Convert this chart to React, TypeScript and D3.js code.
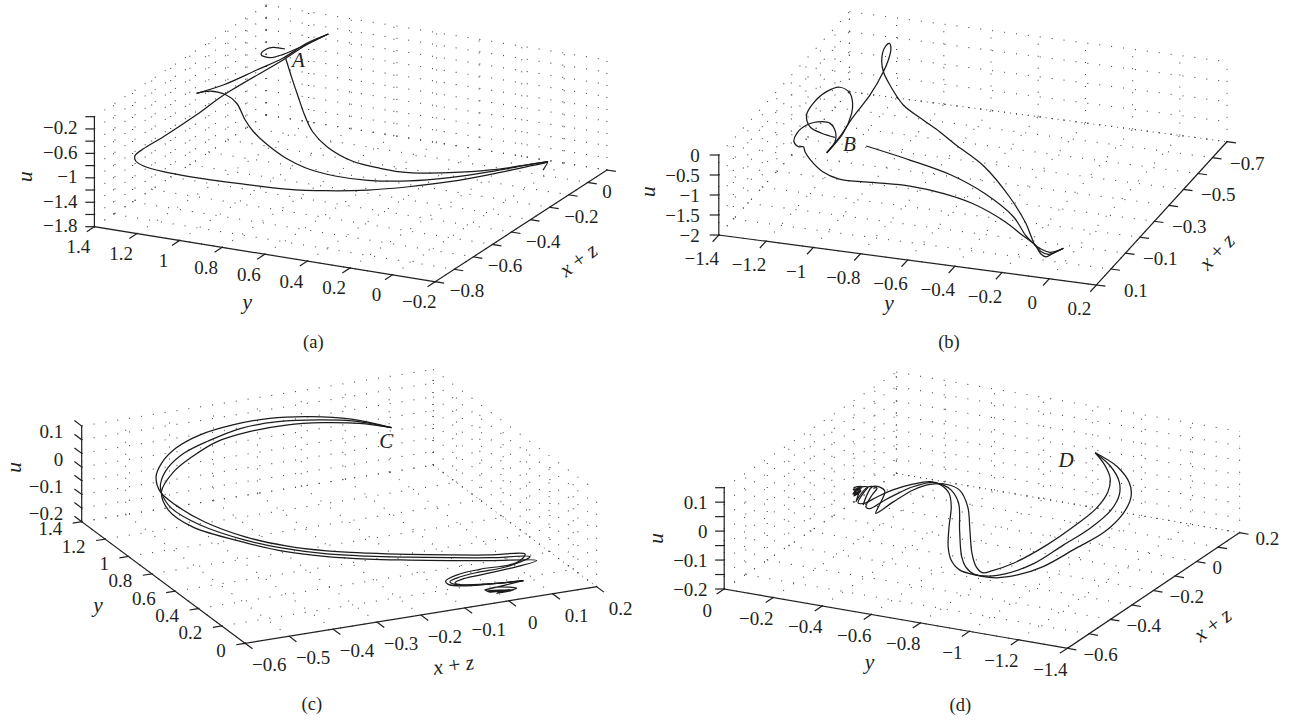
import React from "react";
import * as d3 from "d3";

type Row = [number, number, number]; // y, x + z, u
type Pt = [number, number];

const width = 1289;
const height = 720;
const ink = "#231f20";
const serif = "'Liberation Serif', serif";

// panel (a)
const aYTicks = [1.4, 1.2, 1, 0.8, 0.6, 0.4, 0.2, 0, -0.2];
const aXzTicks = [-0.8, -0.7, -0.6, -0.5, -0.4, -0.3, -0.2, -0.1, 0, 0.1];
const aXzLabels = [-0.8, -0.6, -0.4, -0.2, 0];
const aUTicks = [-1.8, -1.6, -1.4, -1.2, -1, -0.8, -0.6, -0.4, -0.2, 0];
const aULabels = [-1.8, -1.4, -1, -0.6, -0.2];
const aLoop: Row[] = [[1.222,0,-.417],[1.277,0,-.42],[1.308,0,-.465],[1.334,0,-.57],[1.292,0,-.599],[1.23,0,-.508],[1.128,0,-.299],[1.018,0,-.057]];
const aUpper: Row[] = [[1.018,0,-.057],[1.12,0,-.266],[1.23,0,-.569],[1.086,-.3,-.075],[1.243,-.3,-.408],[1.368,-.3,-.615]];
const aDescent: Row[] = [[1.368,-.3,-.615],[1.305,-.3,-.542],[1.235,-.3,-.556],[1.18,-.3,-.672],[1.14,-.3,-.923],[1.101,-.3,-1.093],[1.044,-.3,-1.251],[.948,-.3,-1.442],[.852,-.3,-1.551],[.718,-.3,-1.602],[.564,-.3,-1.586],[.372,-.3,-1.489],[.181,-.3,-1.328],[.078,-.2,-1.375],[-.094,-.2,-1.168],[-.191,-.2,-1.06]];
const aReturn: Row[] = [[-.191,-.2,-1.06],[.078,-.2,-1.347],[.181,-.3,-1.246],[.372,-.3,-1.354],[.507,-.3,-1.357],[.641,-.3,-1.309],[.756,-.3,-1.144],[.823,-.3,-.937],[.861,-.3,-.685],[.891,-.3,-.402],[1.189,0,-.878],[1.219,0,-.563]];
const aLong: Row[] = [[1.018,0,-.057],[1.128,0,-.31],[1.231,0,-.602],[1.235,-.3,-.556],[1.37,-.3,-.971],[1.076,-.8,-.145],[1.172,-.8,-.401],[1.21,-.8,-.536],[1.206,-.8,-.616],[1.172,-.8,-.674],[1.076,-.8,-.718],[.884,-.8,-.729],[.692,-.8,-.708],[.5,-.8,-.677],[.308,-.8,-.597],[.116,-.8,-.478],[-.076,-.8,-.316],[.27,-.2,-1.647],[.078,-.2,-1.418],[-.094,-.2,-1.196],[-.181,-.2,-1.082],[-.191,-.2,-1.06],[-.169,-.2,-1.209]];

// panel (b)
const bYTicks = [-1.4, -1.2, -1, -0.8, -0.6, -0.4, -0.2, 0, 0.2];
const bXzTicks = [0.1, 0, -0.1, -0.2, -0.3, -0.4, -0.5, -0.6, -0.7, -0.8];
const bXzLabels = [0.1, -0.1, -0.3, -0.5, -0.7];
const bUTicks = [-2, -1.5, -1, -0.5, 0];
const bStart: Row[] = [[-.96,-.2,-.626],[-.775,-.2,-.832],[-.6,-.2,-1.07],[-.459,-.2,-1.417],[-.336,-.2,-1.906],[-.098,.1,-1.008],[-.06,.1,-1.203],[-.035,.1,-1.346],[-.004,.1,-1.392],[.06,.1,-1.192]];
const bReturn: Row[] = [[.06,.1,-1.192],[.003,.1,-1.336],[-.035,.1,-1.283],[-.06,.1,-1.203],[-.077,.1,-.992],[-.099,.1,-.691],[-.353,-.2,-1.42],[-.459,-.2,-.752],[-.582,-.2,-.293],[-.832,-.5,-1.369],[-.903,-.5,-1.124],[-.987,-.5,-.815],[-1.044,-.5,-.359],[-1.256,-.8,-1.388],[-1.263,-.8,-1.101],[-1.252,-.8,-.8],[-1.231,-.8,-.658],[-1.224,-.8,-.777],[-1.235,-.8,-1.079],[-1.256,-.8,-1.388],[-1.128,-.5,-.675],[-1.199,-.5,-1.273],[-1.256,-.5,-1.817],[-1.127,-.2,-.924]];
const bBigLoop: Row[] = [[-1.127,-.2,-.924],[-1.242,-.5,-1.721],[-1.206,-.5,-1.194],[-1.202,-.5,-.94],[-1.213,-.5,-.699],[-1.256,-.5,-.582],[-1.312,-.5,-.736],[-1.369,-.5,-1.071],[-1.397,-.5,-1.385],[-1.383,-.5,-1.667],[-1.333,-.5,-1.793],[-1.277,-.5,-1.849]];
const bSmallLoop: Row[] = [[-1.127,-.2,-.924],[-1.092,-.2,-.622],[-1.09,-.2,-.378],[-1.113,-.2,-.179],[-1.148,-.2,-.166],[-1.212,-.2,-.298],[-1.254,-.2,-.539],[-1.266,-.2,-.758],[-1.247,-.2,-.868],[-1.226,-.2,-.852],[-1.219,-.2,-.971],[-1.198,-.2,-1.145],[-1.144,-.2,-1.413],[-1.074,-.2,-1.541],[-.933,-.2,-1.513],[-.775,-.2,-1.482],[-.635,-.2,-1.555],[-.327,.1,-.369],[-.187,.1,-.72],[-.115,.1,-.996],[-.06,.1,-1.203],[-.035,.1,-1.408],[-.014,.1,-1.462],[.012,.1,-1.372],[.06,.1,-1.192]];

// panel (c)
const cYTicks = [1.4, 1.2, 1, 0.8, 0.6, 0.4, 0.2, 0];
const cXzTicks = [-0.6, -0.5, -0.4, -0.3, -0.2, -0.1, 0, 0.1, 0.2];
const cUTicks = [-0.2, -0.15, -0.1, -0.05, 0, 0.05, 0.1, 0.15];
const cULabels = [-0.2, -0.1, 0, 0.1];
const cOuter: Row[] = [[1.38,.1,-.031],[1.348,0,.036],[1.321,-.1,.08],[1.295,-.2,.108],[1.234,-.3,.129],[1.138,-.4,.149],[1.348,-.4,.033],[1.093,-.5,.085],[1.139,-.5,.022],[1.104,-.5,-.022],[.971,-.5,-.029],[.726,-.5,-.012],[.376,-.5,.044],[.026,-.5,.122],[.429,-.3,-.076],[.079,-.3,.027],[.481,-.1,-.157],[.132,-.1,-.048],[.157,0,-.082],[.236,.1,-.13],[.308,.1,-.184],[.247,0,-.163],[.07,-.1,-.102],[.164,-.1,-.154],[.142,-.1,-.159],[.059,-.08,-.143],[.104,0,-.169],[.063,.05,-.159]];
const cMiddle: Row[] = [[1.38,.1,-.031],[1.317,0,.039],[1.251,-.1,.09],[1.224,-.2,.118],[1.164,-.3,.139],[1.068,-.4,.149],[1.278,-.4,.037],[1.04,-.5,.084],[1.1,-.5,.01],[1.093,-.5,-.023],[1.006,-.5,-.052],[.761,-.5,-.035],[.376,-.5,.032],[.026,-.5,.112],[.429,-.3,-.087],[.079,-.3,.016],[.481,-.1,-.167],[.132,-.1,-.058],[.157,0,-.092],[.194,.1,-.126],[.018,0,-.081],[.275,0,-.184],[.07,-.1,-.113],[.128,-.1,-.145],[.085,-.1,-.141],[.031,-.08,-.131],[.104,0,-.169],[.063,.05,-.159]];
const cInner: Row[] = [[1.38,.1,-.031],[1.278,0,.043],[1.217,-.1,.091],[1.154,-.2,.128],[1.093,-.3,.149],[1.373,-.3,.023],[1.207,-.4,.047],[.988,-.5,.088],[1.093,-.5,-.019],[1.034,-.5,-.067],[.831,-.5,-.063],[.376,-.5,.023],[.026,-.5,.101],[.429,-.3,-.097],[.079,-.3,.005],[.481,-.1,-.178],[.132,-.1,-.069],[.157,0,-.103],[.137,.1,-.122],[.065,.02,-.107],[.247,0,-.184],[.027,-.1,-.104],[.085,-.1,-.135],[.027,-.1,-.124],[.003,-.08,-.121],[.104,0,-.169],[.063,.05,-.159]];
const cSettle: Row[] = [[.063,.05,-.159],[.015,-.05,-.152],[.104,0,-.183],[.045,.03,-.176],[.075,0,-.19],[.001,-.05,-.151],[.074,.03,-.192],[.028,-.02,-.176],[.103,.03,-.199],[.086,-.02,-.19],[.015,-.05,-.152]];

// panel (d)
const dYTicks = [0, -0.2, -0.4, -0.6, -0.8, -1, -1.2, -1.4];
const dXzTicks = [-0.6, -0.5, -0.4, -0.3, -0.2, -0.1, 0, 0.1, 0.2];
const dXzLabels = [-0.6, -0.4, -0.2, 0, 0.2];
const dUTicks = [-0.2, -0.15, -0.1, -0.05, 0, 0.05, 0.1, 0.15];
const dULabels = [-0.2, -0.1, 0, 0.1];
const dLeft: Row[] = [[-.811,.2,-.01],[-.901,.2,-.045],[-.951,.2,-.095],[-.957,.2,-.141],[-1.101,0,-.077],[-1.025,0,-.152],[-1.083,-.2,-.101],[-1.123,-.4,-.059],[-1.021,-.4,-.102],[-.936,-.4,-.124],[-.852,-.4,-.127],[-.784,-.4,-.119],[-.75,-.4,-.09],[-.738,-.4,-.046],[-.566,-.2,-.102],[-.575,-.2,-.031],[-.566,-.2,.014],[-.532,-.2,.038],[-.49,-.2,.043],[-.414,-.2,.022],[-.337,-.2,-.008],[-.272,-.2,-.042],[-.223,-.2,-.07],[-.195,-.2,-.074],[-.219,-.2,-.033],[-.235,-.2,-.013],[-.195,-.2,-.022],[-.174,-.2,-.046]];
const dMiddle: Row[] = [[-.811,.2,-.01],[-.875,.2,-.049],[-.909,.2,-.096],[-.909,.2,-.142],[-1.051,0,-.073],[-.966,0,-.148],[-1.032,-.2,-.097],[-1.089,-.4,-.052],[-.97,-.4,-.106],[-.911,-.4,-.122],[-.843,-.4,-.125],[-.809,-.4,-.104],[-.793,-.4,-.072],[-.609,-.2,-.107],[-.605,-.2,-.015],[-.575,-.2,.026],[-.541,-.2,.039],[-.498,-.2,.042],[-.419,-.2,.015],[-.345,-.2,-.024],[-.298,-.2,-.052],[-.244,-.2,-.086],[-.227,-.2,-.083],[-.252,-.2,-.038],[-.272,-.2,-.011],[-.235,-.2,-.013],[-.195,-.2,-.057],[-.186,-.2,-.071],[-.203,-.2,-.028]];
const dRight: Row[] = [[-.811,.2,-.01],[-.85,.2,-.047],[-.872,.2,-.089],[-.863,.2,-.137],[-.991,0,-.076],[-.907,0,-.146],[-.964,-.2,-.107],[-1.004,-.4,-.064],[-.919,-.4,-.102],[-.877,-.4,-.115],[-.852,-.4,-.098],[-.835,-.4,-.054],[-.651,-.2,-.101],[-.642,-.2,-.021],[-.609,-.2,.031],[-.558,-.2,.043],[-.488,-.2,.033],[-.42,-.2,.004],[-.339,-.2,-.049],[-.267,-.2,-.099],[-.284,-.2,-.064],[-.304,-.2,-.017],[-.284,-.2,-.006],[-.253,-.2,-.009],[-.227,-.2,-.049],[-.216,-.2,-.078]];
const dBlob: Row[] = [[-.174,-.2,-.032],[-.203,-.2,-.021],[-.174,-.2,-.046],[-.207,-.2,-.031],[-.178,-.2,-.052],[-.211,-.2,-.016],[-.178,-.2,-.025],[-.195,-.2,-.046],[-.182,-.2,-.034],[-.203,-.2,-.028],[-.178,-.2,-.052],[-.195,-.2,-.022]];

type Offset = { dx: number; dy: number; anchor: "start" | "middle" | "end" };
type Panel = {
  caption: string; tag: string;
  yTicks: number[]; yLabels: number[];
  xzTicks: number[]; xzLabels: number[];
  uTicks: number[]; uLabels: number[];
  curves: Row[][];
  origin: Pt; yEnd: Pt; xzEnd: Pt; uTop: number;
  uTickTilt: boolean;
  yOffset: Offset; xzOffset: Offset; uOffset: Offset;
  xzFirstNudge: number;
  uTitle: Pt; yTitle: Pt; xzTitle: Pt; xzAngle: number;
  tagAt: Pt; captionAt: Pt;
  edgeDash: string;
};

const panels: Panel[] = [
  {
    caption: "(a)", tag: "A",
    yTicks: aYTicks, yLabels: aYTicks,
    xzTicks: aXzTicks, xzLabels: aXzLabels,
    uTicks: aUTicks, uLabels: aULabels,
    curves: [aLoop, aUpper, aDescent, aReturn, aLong],
    origin: [94.4, 226.7], yEnd: [435.2, 281.7], xzEnd: [606.9, 170], uTop: 116.7,
    uTickTilt: false,
    yOffset: { dx: -16, dy: 20, anchor: "middle" },
    xzOffset: { dx: 14.5, dy: 9, anchor: "start" },
    uOffset: { dx: -17, dy: -1, anchor: "end" },
    xzFirstNudge: 0,
    uTitle: [24.5, 176.7], yTitle: [247.2, 301.7], xzTitle: [578.3, 260], xzAngle: -36,
    tagAt: [298.3, 60], captionAt: [313.3, 341.7],
    edgeDash: "1 11",
  },
  {
    caption: "(b)", tag: "B",
    yTicks: bYTicks, yLabels: bYTicks,
    xzTicks: bXzTicks, xzLabels: bXzLabels,
    uTicks: bUTicks, uLabels: bUTicks,
    curves: [bStart, bReturn, bBigLoop, bSmallLoop],
    origin: [718.8, 235], yEnd: [1096.4, 285], xzEnd: [1227, 141.7], uTop: 155,
    uTickTilt: false,
    yOffset: { dx: -17, dy: 23.5, anchor: "middle" },
    xzOffset: { dx: 17.5, dy: 5.5, anchor: "start" },
    uOffset: { dx: -19, dy: 0, anchor: "end" },
    xzFirstNudge: 10,
    uTitle: [647.5, 191.7], yTitle: [889, 303], xzTitle: [1216.8, 251.7], xzAngle: -46,
    tagAt: [849.3, 144], captionAt: [949, 341.7],
    edgeDash: "1 5",
  },
  {
    caption: "(c)", tag: "C",
    yTicks: cYTicks, yLabels: cYTicks,
    xzTicks: cXzTicks, xzLabels: cXzTicks,
    uTicks: cUTicks, uLabels: cULabels,
    curves: [cOuter, cMiddle, cInner, cSettle],
    origin: [81.7, 521.7], yEnd: [245.2, 643.3], xzEnd: [596.6, 586.7], uTop: 426,
    uTickTilt: true,
    yOffset: { dx: -19.5, dy: 7, anchor: "end" },
    xzOffset: { dx: 24, dy: 21.5, anchor: "middle" },
    uOffset: { dx: -18.5, dy: -8, anchor: "end" },
    xzFirstNudge: 0,
    uTitle: [14, 467.3], yTitle: [98, 605], xzTitle: [453.6, 665], xzAngle: -8,
    tagAt: [386.2, 440.7], captionAt: [311.8, 704],
    edgeDash: "1 5",
  },
  {
    caption: "(d)", tag: "D",
    yTicks: dYTicks, yLabels: dYTicks,
    xzTicks: dXzTicks, xzLabels: dXzLabels,
    uTicks: dUTicks, uLabels: dULabels,
    curves: [dLeft, dMiddle, dRight, dBlob],
    origin: [724.2, 589], yEnd: [1067.4, 648.3], xzEnd: [1239.6, 532.7], uTop: 487.7,
    uTickTilt: false,
    yOffset: { dx: -17, dy: 21, anchor: "middle" },
    xzOffset: { dx: 16, dy: 5.8, anchor: "start" },
    uOffset: { dx: -16.6, dy: 0, anchor: "end" },
    xzFirstNudge: 0,
    uTitle: [655.8, 538.3], yTitle: [869.5, 661.7], xzTitle: [1212.6, 625], xzAngle: -37,
    tagAt: [1066.1, 460], captionAt: [960.3, 705],
    edgeDash: "1 5",
  },
];

const fmt = (v: number) => String(v).replace("-", "\u2212");
const TICK = 8.5;

function Cube({ p }: { p: Panel }) {
  const yS = d3.scaleLinear().domain([p.yTicks[0], p.yTicks[p.yTicks.length - 1]]).range([0, 1]);
  const xzS = d3.scaleLinear().domain([p.xzTicks[0], p.xzTicks[p.xzTicks.length - 1]]).range([0, 1]);
  const uS = d3.scaleLinear().domain([p.uTicks[0], p.uTicks[p.uTicks.length - 1]]).range([0, p.uTop - p.origin[1]]);
  const vy: Pt = [p.yEnd[0] - p.origin[0], p.yEnd[1] - p.origin[1]];
  const vx: Pt = [p.xzEnd[0] - p.yEnd[0], p.xzEnd[1] - p.yEnd[1]];
  const project = ([y, xz, u]: Row): Pt => [
    p.origin[0] + yS(y) * vy[0] + xzS(xz) * vx[0],
    p.origin[1] + yS(y) * vy[1] + xzS(xz) * vx[1] + uS(u),
  ];
  const line = d3
    .line<Row>()
    .x((d) => project(d)[0])
    .y((d) => project(d)[1])
    .curve(d3.curveCatmullRom.alpha(0.5));

  const y0 = p.yTicks[0];
  const y1 = p.yTicks[p.yTicks.length - 1];
  const x0 = p.xzTicks[0];
  const x1 = p.xzTicks[p.xzTicks.length - 1];
  const u0 = p.uTicks[0];
  const u1 = p.uTicks[p.uTicks.length - 1];

  const grid: Row[][] = [
    ...p.yTicks.flatMap((y) => [[[y, x0, u0], [y, x1, u0]], [[y, x1, u0], [y, x1, u1]]] as Row[][]),
    ...p.xzTicks.flatMap((x) => [[[y0, x, u0], [y1, x, u0]], [[y0, x, u0], [y0, x, u1]]] as Row[][]),
    ...p.uTicks.flatMap((u) => [[[y0, x0, u], [y0, x1, u]], [[y0, x1, u], [y1, x1, u]]] as Row[][]),
  ];
  const backEdge: Row[] = [[y0, x1, u0], [y1, x1, u0]];
  const seg = (a: Row, b: Row) => {
    const [ax, ay] = project(a);
    const [bx, by] = project(b);
    return { x1: ax, y1: ay, x2: bx, y2: by };
  };
  const unit = (v: Pt): Pt => {
    const n = Math.hypot(v[0], v[1]);
    return [v[0] / n, v[1] / n];
  };
  const ux = unit(vx);
  const uy = unit(vy);
  const uDir: Pt = p.uTickTilt ? [-uy[0], -uy[1]] : [-1, 0];

  const tickText = { fontFamily: serif, fontSize: 19, fill: ink };
  const title = { fontFamily: serif, fontSize: 21.5, fontStyle: "italic", fill: ink };

  return (
    <g>
      <g stroke="#4a4a4a" strokeWidth={1.1} strokeDasharray="1 11">
        {grid.map((g, i) => (
          <line key={i} {...seg(g[0], g[1])} />
        ))}
      </g>
      <line {...seg(backEdge[0], backEdge[1])} stroke="#4a4a4a" strokeWidth={1} strokeDasharray={p.edgeDash} />

      <g stroke={ink} strokeWidth={1.2} fill="none" strokeLinecap="square">
        <line {...seg([y0, x0, u0], [y0, x0, u1])} />
        <line {...seg([y0, x0, u0], [y1, x0, u0])} />
        <line {...seg([y1, x0, u0], [y1, x1, u0])} />
        {p.uTicks.map((u) => {
          const [x, y] = project([y0, x0, u]);
          return <line key={u} x1={x} y1={y} x2={x + uDir[0] * TICK} y2={y + uDir[1] * TICK} />;
        })}
        {p.yTicks.map((t) => {
          const [x, y] = project([t, x0, u0]);
          return <line key={t} x1={x} y1={y} x2={x - ux[0] * TICK} y2={y - ux[1] * TICK} />;
        })}
        {p.xzTicks.map((t) => {
          const [x, y] = project([y1, t, u0]);
          return <line key={t} x1={x} y1={y} x2={x + uy[0] * TICK} y2={y + uy[1] * TICK} />;
        })}
      </g>

      <g fill="none" stroke="#1c1a1a" strokeWidth={1.25} strokeLinejoin="round">
        {p.curves.map((c, i) => (
          <path key={i} d={line(c) ?? ""} />
        ))}
      </g>

      <g {...tickText} dominantBaseline="central">
        {p.uLabels.map((u) => {
          const [x, y] = project([y0, x0, u]);
          return (
            <text key={u} x={x + p.uOffset.dx} y={y + p.uOffset.dy} textAnchor={p.uOffset.anchor}>
              {fmt(u)}
            </text>
          );
        })}
        {p.yLabels.map((t) => {
          const [x, y] = project([t, x0, u0]);
          return (
            <text key={t} x={x + p.yOffset.dx} y={y + p.yOffset.dy} textAnchor={p.yOffset.anchor}>
              {fmt(t)}
            </text>
          );
        })}
        {p.xzLabels.map((t, i) => {
          const [x, y] = project([y1, t, u0]);
          return (
            <text
              key={t}
              x={x + p.xzOffset.dx + (i === 0 ? p.xzFirstNudge : 0)}
              y={y + p.xzOffset.dy}
              textAnchor={p.xzOffset.anchor}
            >
              {fmt(t)}
            </text>
          );
        })}
      </g>

      <g {...title} textAnchor="middle" dominantBaseline="central">
        <text transform={`translate(${p.uTitle}) rotate(-90)`}>u</text>
        <text x={p.yTitle[0]} y={p.yTitle[1]}>y</text>
        <text transform={`translate(${p.xzTitle}) rotate(${p.xzAngle})`}>
          x<tspan fontStyle="normal"> + </tspan>z
        </text>
        <text x={p.tagAt[0]} y={p.tagAt[1]} fontSize={21}>{p.tag}</text>
      </g>
      <text
        x={p.captionAt[0]}
        y={p.captionAt[1]}
        fontFamily={serif}
        fontSize={18.5}
        fill={ink}
        textAnchor="middle"
        dominantBaseline="central"
      >
        {p.caption}
      </text>
    </g>
  );
}

export default function App() {
  return (
    <svg
      width={width}
      height={height}
      style={{ position: "absolute", left: 0, top: 0, background: "#fff" }}
    >
      {panels.map((p) => (
        <Cube key={p.caption} p={p} />
      ))}
    </svg>
  );
}
